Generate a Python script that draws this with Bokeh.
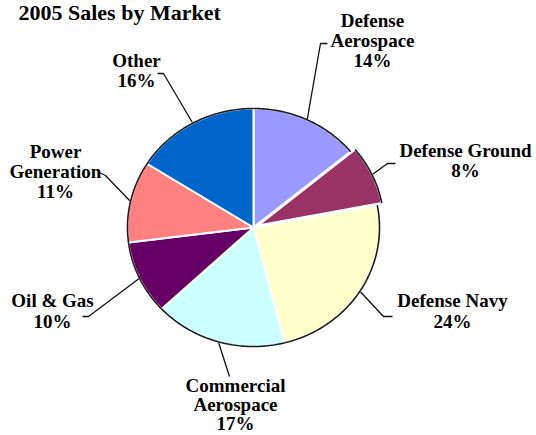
import math
from bokeh.plotting import figure
from bokeh.models import Range1d
from bokeh.embed import file_html
from bokeh.resources import INLINE
from bokeh.core.properties import value

# ---- data ----
title = "2005 Sales by Market"
markets = ["Defense Aerospace", "Defense Ground", "Defense Navy",
           "Commercial Aerospace", "Oil & Gas", "Power Generation", "Other"]
shares = [14, 8, 24, 17, 10, 11, 16]
colors = ["#9999FF", "#993366", "#FFFFCC", "#CCFFFF", "#660066", "#FF8080", "#0066CC"]

# ---- layout (screen pixels, y downward) ----
W, H = 536, 435
CX, CY, RX, RY = 253, 227, 126, 119
TEXT_DY = -7
explode = {"Defense Ground": 5}
wrap = {"Defense Aerospace", "Commercial Aerospace", "Power Generation"}
# label centre x, first baseline y, line step, leader elbow points (from label towards pie)
label_layout = {
    "Defense Aerospace": (372, 27, 20, [(327, 43), (320, 43)]),
    "Defense Ground": (465, 157, 20, [(395, 163), (387, 163)]),
    "Defense Navy": (452, 307, 21, [(392, 316), (383, 316)]),
    "Commercial Aerospace": (235, 392, 19, [(229, 376)]),
    "Oil & Gas": (52, 307, 21, [(82, 316), (88, 316)]),
    "Power Generation": (55, 158, 20, [(99, 172), (105, 175)]),
    "Other": (136, 67, 20, [(157, 73), (163, 73)]),
}
FONT = value("Liberation Serif")

p = figure(width=W, height=H, x_range=Range1d(0, W), y_range=Range1d(H, 0),
           output_backend="svg", toolbar_location=None,
           x_axis_location=None, y_axis_location=None, min_border=0)
p.outline_line_color = None
p.xgrid.visible = False
p.ygrid.visible = False
p.background_fill_color = "white"
p.border_fill_color = "white"

total = float(sum(shares))
xs, ys, axs, ays, lxs, lys = [], [], [], [], [], []
tx, ty, tt = [], [], []
cum = 0.0
for name, v in zip(markets, shares):
    t0 = 2 * math.pi * cum / total
    t1 = 2 * math.pi * (cum + v) / total
    cum += v
    tm = (t0 + t1) / 2
    e = explode.get(name, 0)
    dx, dy = e * math.sin(tm), -e * math.cos(tm)
    n = max(10, int(v * 4))
    arc_x = [CX + dx + RX * math.sin(t0 + (t1 - t0) * i / n) for i in range(n + 1)]
    arc_y = [CY + dy - RY * math.cos(t0 + (t1 - t0) * i / n) for i in range(n + 1)]
    xs.append([CX + dx] + arc_x)
    ys.append([CY + dy] + arc_y)
    axs.append(arc_x)
    ays.append(arc_y)
    # leader line
    lx0, ly0, step, elbows = label_layout[name]
    ex = CX + dx + RX * math.sin(tm)
    ey = CY + dy - RY * math.cos(tm)
    lxs.append([pt[0] for pt in elbows] + [ex])
    lys.append([pt[1] for pt in elbows] + [ey])
    # label lines
    lines = name.split(" ", 1) if name in wrap else [name]
    lines = lines + ["%d%%" % v]
    for i, ln in enumerate(lines):
        tx.append(lx0)
        ty.append(ly0 + i * step + TEXT_DY)
        tt.append(ln)

p.multi_line(xs=lxs, ys=lys, line_color="#111111", line_width=1.3)
p.patches(xs=xs, ys=ys, fill_color=colors, line_color="white", line_width=2)
p.multi_line(xs=axs, ys=ays, line_color="#1a1a1a", line_width=1.6)

p.text(x=tx, y=ty, text=tt, text_font=FONT, text_font_style="bold",
       text_font_size="19px", text_align="center", text_baseline="alphabetic",
       text_color="black")
p.text(x=[18], y=[19 + TEXT_DY], text=[title], text_font=FONT, text_font_style="bold",
       text_font_size="22px", text_align="left", text_baseline="alphabetic",
       text_color="black")

open("out.html", "w").write(file_html(p, INLINE))
